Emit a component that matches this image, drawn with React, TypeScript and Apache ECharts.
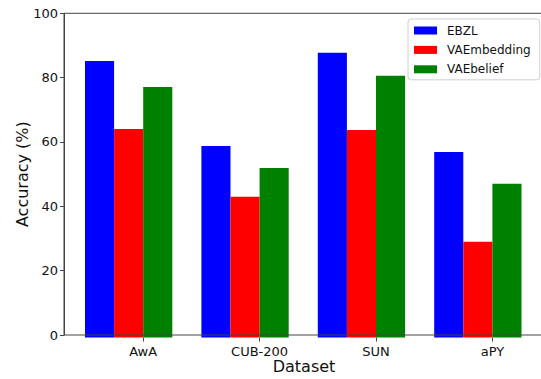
import React, { useEffect, useRef } from "react";
import * as echarts from "echarts";

const categories = ["AwA", "CUB-200", "SUN", "aPY"];
const seriesNames = ["EBZL", "VAEmbedding", "VAEbelief"];
const ebzl = [85.3, 59.1, 87.8, 57.2];
const vaeEmbedding = [64.3, 43.4, 64.0, 29.5];
const vaeBelief = [77.3, 52.3, 80.7, 47.4];
const colors = ["#0000ff", "#ff0000", "#008000"];
const yMin = 0;
const yMax = 100;
const yStep = 20;

const FONT = "DejaVu Sans";

export default function App() {
  const ref = useRef<HTMLDivElement>(null);
  useEffect(() => {
    if (!ref.current) return;
    const chart = echarts.init(ref.current, undefined, { renderer: "svg" });
    const values = [ebzl, vaeEmbedding, vaeBelief];
    const barSeries: any[] = values.map((v, i) => ({
      name: seriesNames[i],
      type: "bar",
      xAxisIndex: 0,
      yAxisIndex: 0,
      data: v,
      barWidth: "25%",
      barGap: "0%",
      barCategoryGap: "0%",
      itemStyle: { color: colors[i] },
      z: 1,
    }));
    // spacer series so the tick falls on the boundary of the 2nd and 3rd bars
    barSeries.push({
      name: "_spacer",
      type: "bar",
      xAxisIndex: 0,
      yAxisIndex: 0,
      data: categories.map(() => 0),
      barWidth: "25%",
      barGap: "0%",
      barCategoryGap: "0%",
      itemStyle: { color: "transparent" },
      silent: true,
    });
    chart.setOption({
      animation: false,
      backgroundColor: "#ffffff",
      textStyle: { fontFamily: FONT },
      grid: [
        { left: 85, top: 13.3, width: 465.6, bottom: 41.5, show: false },
        {
          left: 64,
          top: 13.3,
          width: 480,
          bottom: 41.5,
          show: true,
          borderColor: "#444",
          borderWidth: 1,
          backgroundColor: "transparent",
          z: 5,
        },
      ],
      xAxis: [
        {
          type: "category",
          gridIndex: 0,
          data: categories,
          boundaryGap: true,
          axisLine: { show: false },
          axisTick: {
            show: true,
            alignWithLabel: true,
            length: 4,
            lineStyle: { color: "#444" },
          },
          axisLabel: {
            fontSize: 13,
            color: "#111",
            fontFamily: FONT,
            margin: 7,
          },
        },
        {
          type: "value",
          gridIndex: 1,
          min: 0,
          max: 1,
          axisLine: { show: false },
          axisTick: { show: false },
          axisLabel: { show: false },
          splitLine: { show: false },
          name: "Dataset",
          nameLocation: "middle",
          nameGap: 23,
          nameMoveOverlap: false,
          nameTextStyle: { fontSize: 16, color: "#111", fontFamily: FONT },
        },
      ],
      yAxis: [
        {
          type: "value",
          gridIndex: 0,
          min: yMin,
          max: yMax,
          show: false,
          splitLine: { show: false },
        },
        {
          type: "value",
          gridIndex: 1,
          min: yMin,
          max: yMax,
          interval: yStep,
          axisLine: { show: true, lineStyle: { color: "#444" } },
          axisTick: { show: true, length: 4, lineStyle: { color: "#444" } },
          axisLabel: {
            fontSize: 13,
            color: "#111",
            fontFamily: FONT,
            margin: 6,
          },
          splitLine: { show: false },
          name: "Accuracy (%)",
          nameLocation: "middle",
          nameGap: 34,
          nameMoveOverlap: false,
          nameTextStyle: { fontSize: 16, color: "#111", fontFamily: FONT },
        },
      ],
      legend: {
        data: seriesNames,
        orient: "vertical",
        left: 408,
        top: 19,
        icon: "rect",
        itemWidth: 23,
        itemHeight: 8,
        itemGap: 6.4,
        padding: [5, 9, 4, 6],
        backgroundColor: "#ffffff",
        borderColor: "#d0d0d0",
        borderWidth: 1,
        borderRadius: 3,
        textStyle: {
          fontSize: 12,
          color: "#111",
          fontFamily: FONT,
          lineHeight: 13,
          padding: [0, 0, 0, 5],
        },
        selectedMode: false,
      },
      series: barSeries,
    });
    return () => chart.dispose();
  }, []);
  return (
    <div
      style={{
        position: "fixed",
        left: 0,
        top: 0,
        width: 541,
        height: 379,
        overflow: "hidden",
      }}
    >
      <div ref={ref} style={{ width: 570, height: 379 }} />
    </div>
  );
}
